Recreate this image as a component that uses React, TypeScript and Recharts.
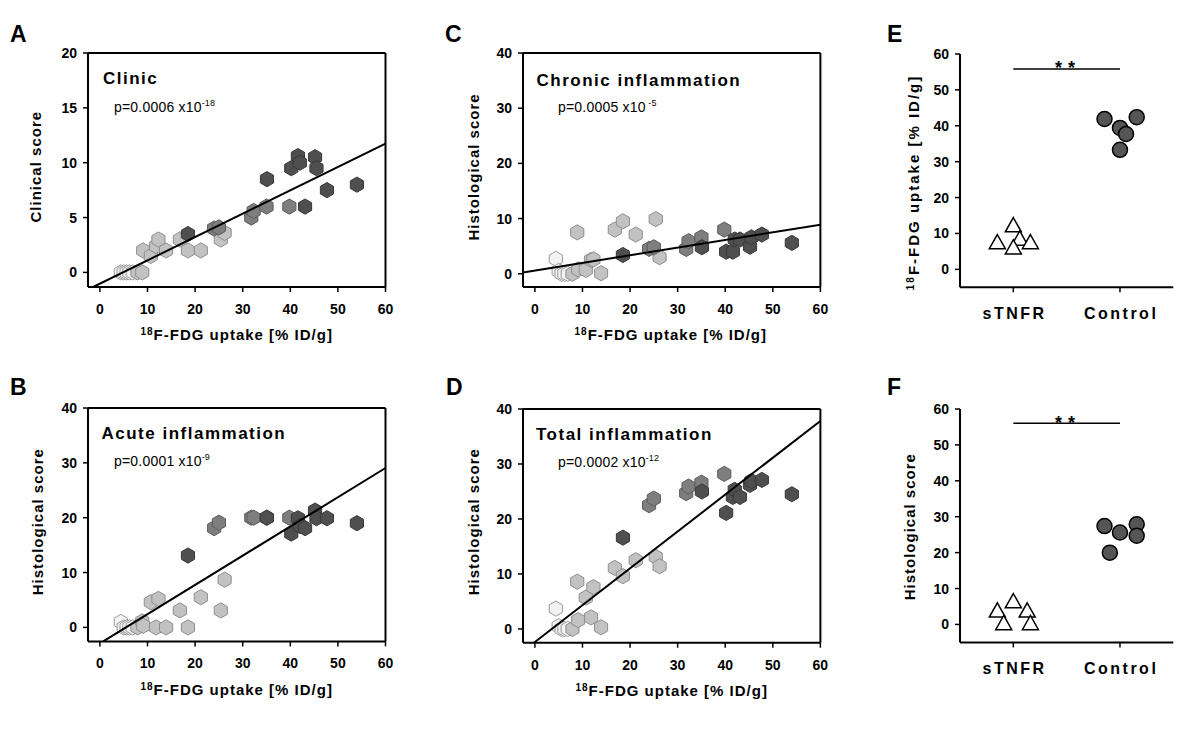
import React from 'react';
import { ScatterChart, Scatter, XAxis, YAxis, ReferenceLine } from 'recharts';

const FONT = '"Liberation Sans", Arial, Helvetica, sans-serif';

// ---------- DATA ----------
// 18F-FDG uptake [% ID/g] per group of mice
const uptakeWhite = [4.4, 5.0, 5.6, 6.2, 6.9];
const uptakeLight = [7.9, 8.9, 9.1, 10.7, 11.8, 12.3, 13.9, 16.8, 18.5, 21.2, 25.4, 26.2];
const uptakeMedium = [24.0, 25.0, 31.8, 32.3, 35.0, 39.8];
const uptakeDark = [18.5, 35.1, 40.2, 41.6, 42.0, 43.1, 45.2, 45.5, 47.7, 54.0];

// A: clinical score
const clinicWhite = [0, 0, 0, 0, 0];
const clinicLight = [0, 0, 2.0, 1.5, 2.4, 3.0, 2.0, 3.0, 2.0, 2.0, 3.0, 3.6];
const clinicMedium = [4.0, 4.1, 5.0, 5.6, 6.0, 6.0];
const clinicDark = [3.5, 8.5, 9.5, 10.6, 10.0, 6.0, 10.5, 9.5, 7.5, 8.0];

// B: acute inflammation
const acuteWhite = [1.0, 0, 0, 0, 0];
const acuteLight = [0, 1.1, 0.3, 4.6, 0, 5.2, 0, 3.1, 0, 5.5, 3.1, 8.7];
const acuteMedium = [18.1, 19.1, 20, 20, 20, 20];
const acuteDark = [13.1, 20, 17.1, 19.9, 18.5, 18.1, 21.3, 19.9, 19.9, 19.0];

// C: chronic inflammation
const chronicWhite = [2.7, 0.5, 0, 0, 0];
const chronicLight = [0, 7.5, 0.8, 0.7, 2.5, 2.6, 0.1, 8.0, 9.5, 7.1, 9.9, 3.0];
const chronicMedium = [4.5, 4.8, 4.5, 5.9, 6.6, 8.0];
const chronicDark = [3.4, 4.8, 4.0, 4.0, 6.2, 6.2, 4.9, 6.6, 7.1, 5.6];

// D: total inflammation
const totalWhite = [3.7, 0.5, 0, 0, 0];
const totalLight = [0, 8.6, 1.6, 5.7, 2.1, 7.6, 0.3, 11.1, 9.6, 12.5, 13.1, 11.4];
const totalMedium = [22.5, 23.7, 24.7, 25.9, 26.6, 28.2];
const totalDark = [16.6, 25.0, 21.1, 24.0, 25.3, 24.0, 26.2, 26.9, 27.1, 24.5];

// regression lines (slope, intercept)
const fitClinic = [0.2127, -1.03];
const fitAcute = [0.533, -2.92];
const fitChronic = [0.1382, 0.59];
const fitTotal = [0.67, -2.37];

// E / F group comparisons (x = jittered group position, 0.5 = sTNFR, 1.5 = Control)
const categories = ['sTNFR', 'Control'];
const categoryPositions = [0.5, 1.5];
const eSTNFRx = [0.5, 0.35, 0.56, 0.66, 0.5];
const eSTNFRy = [12.4, 7.7, 8.7, 7.7, 6.25];
const eControlX = [1.355, 1.657, 1.5, 1.557, 1.5];
const eControlY = [41.9, 42.4, 39.4, 37.7, 33.3];
const fSTNFRx = [0.35, 0.41, 0.5, 0.63, 0.66];
const fSTNFRy = [4.0, 0.5, 6.6, 4.0, 0.5];
const fControlX = [1.355, 1.657, 1.5, 1.657, 1.405];
const fControlY = [27.4, 27.9, 25.6, 24.7, 20.0];
const sigE = [0.5, 1.5, 55.8];
const sigF = [0.5, 1.5, 56];

const xTicks = [0, 10, 20, 30, 40, 50, 60];
const xDomain: [number, number] = [-2.5, 60];
const ticks20 = [0, 5, 10, 15, 20];
const ticks40 = [0, 10, 20, 30, 40];
const ticks60 = [0, 10, 20, 30, 40, 50, 60];

// ---------- helpers ----------
type Pt = { x: number; y: number };
const zip = (xs: number[], ys: number[]): Pt[] => xs.map((x, i) => ({ x, y: ys[i] }));

const STYLE = {
  white: { fill: '#f3f3f3', stroke: '#9a9a9a' },
  light: { fill: '#c2c2c2', stroke: '#8e8e8e' },
  medium: { fill: '#7e7e7e', stroke: '#5c5c5c' },
  dark: { fill: '#4f4f4f', stroke: '#383838' },
};

const hexPath = (cx: number, cy: number, r: number) => {
  const pts: string[] = [];
  for (let k = 0; k < 6; k++) {
    const a = Math.PI / 2 + (k * Math.PI) / 3;
    pts.push(`${(cx + r * Math.cos(a)).toFixed(2)},${(cy - r * Math.sin(a)).toFixed(2)}`);
  }
  return `M${pts.join('L')}Z`;
};

const makeHex = (fill: string, stroke: string) => (props: any) => {
  const { cx, cy } = props;
  if (cx == null || cy == null) return <g />;
  return <path d={hexPath(cx, cy, 7.6)} fill={fill} stroke={stroke} strokeWidth={1} />;
};

const noShape = () => <g />;

const Triangle = (props: any) => {
  const { cx, cy } = props;
  if (cx == null || cy == null) return <g />;
  return (
    <path
      d={`M${cx},${cy - 7.2}L${cx + 8},${cy + 7}L${cx - 8},${cy + 7}Z`}
      fill="#ffffff"
      stroke="#000"
      strokeWidth={1.5}
      strokeLinejoin="miter"
    />
  );
};

const Circle = (props: any) => {
  const { cx, cy } = props;
  if (cx == null || cy == null) return <g />;
  return <circle cx={cx} cy={cy} r={7.5} fill="#555555" stroke="#000" strokeWidth={1.5} />;
};

const fitPoints = (fit: number[], yDomain: [number, number]): Pt[] => {
  const [m, b] = fit;
  const x0 = Math.max(xDomain[0], (yDomain[0] - b) / m);
  const x1 = Math.min(xDomain[1], (yDomain[1] - b) / m);
  return [
    { x: x0, y: m * x0 + b },
    { x: x1, y: m * x1 + b },
  ];
};

const tickStyle = { fontSize: 14, fontWeight: 700, fill: '#000', fontFamily: FONT };
const axisLine = { stroke: '#000', strokeWidth: 2 };
const tickLine = { stroke: '#000', strokeWidth: 1.5 };

type Groups = { white: number[]; light: number[]; medium: number[]; dark: number[] };

function ScatterPanel(props: {
  left: number;
  top: number;
  width: number;
  height: number;
  yDomain: [number, number];
  yTicks: number[];
  groups: Groups;
  fit: number[];
}) {
  const { left, top, width, height, yDomain, yTicks, groups, fit } = props;
  const W = width + 90;
  const H = height + 80;
  return (
    <div style={{ position: 'absolute', left: left - 70, top: top - 20 }}>
      <ScatterChart width={W} height={H} margin={{ top: 20, right: 20, bottom: 30, left: 10 }}>
        <XAxis
          type="number"
          dataKey="x"
          domain={xDomain}
          ticks={xTicks}
          interval={0}
          allowDataOverflow
          height={30}
          tickSize={5}
          tickMargin={12}
          axisLine={axisLine}
          tickLine={tickLine}
          tick={tickStyle}
        />
        <YAxis
          type="number"
          dataKey="y"
          domain={yDomain}
          ticks={yTicks}
          interval={0}
          allowDataOverflow
          width={60}
          tickSize={5}
          tickMargin={6}
          axisLine={axisLine}
          tickLine={tickLine}
          tick={tickStyle}
        />
        <ReferenceLine y={yDomain[1]} stroke="#000" strokeWidth={2} ifOverflow="visible" />
        <ReferenceLine x={xDomain[1]} stroke="#000" strokeWidth={2} ifOverflow="visible" />
        <Scatter data={zip(uptakeWhite, groups.white)} shape={makeHex(STYLE.white.fill, STYLE.white.stroke)} isAnimationActive={false} />
        <Scatter data={zip(uptakeLight, groups.light)} shape={makeHex(STYLE.light.fill, STYLE.light.stroke)} isAnimationActive={false} />
        <Scatter data={zip(uptakeMedium, groups.medium)} shape={makeHex(STYLE.medium.fill, STYLE.medium.stroke)} isAnimationActive={false} />
        <Scatter data={zip(uptakeDark, groups.dark)} shape={makeHex(STYLE.dark.fill, STYLE.dark.stroke)} isAnimationActive={false} />
        <Scatter
          data={fitPoints(fit, yDomain)}
          shape={noShape}
          line={{ stroke: '#000', strokeWidth: 2 }}
          isAnimationActive={false}
        />
      </ScatterChart>
    </div>
  );
}

const CatTick = (props: any) => {
  const { x, y, payload } = props;
  const idx = categoryPositions.indexOf(payload.value);
  return (
    <text
      x={x + 1.2}
      y={y}
      dy="0.71em"
      textAnchor="middle"
      fontFamily={FONT}
      fontSize={16}
      fontWeight={700}
      letterSpacing={2.5}
      fill="#000"
    >
      {categories[idx] ?? ''}
    </text>
  );
};

function GroupPanel(props: {
  left: number;
  top: number;
  width: number;
  height: number;
  tri: Pt[];
  circ: Pt[];
  sig: number[];
}) {
  const { left, top, width, height, tri, circ, sig } = props;
  const W = width + 110;
  const H = height + 90;
  return (
    <div style={{ position: 'absolute', left: left - 80, top: top - 20 }}>
      <ScatterChart width={W} height={H} margin={{ top: 20, right: 30, bottom: 30, left: 30 }}>
        <XAxis
          type="number"
          dataKey="x"
          domain={[0, 2]}
          ticks={categoryPositions}
          interval={0}
          height={40}
          tickSize={5}
          tickMargin={15}
          axisLine={axisLine}
          tickLine={tickLine}
          tick={<CatTick />}
        />
        <YAxis
          type="number"
          dataKey="y"
          domain={[-5, 60]}
          ticks={ticks60}
          interval={0}
          width={50}
          tickSize={5}
          tickMargin={6}
          axisLine={axisLine}
          tickLine={tickLine}
          tick={tickStyle}
        />
        <ReferenceLine
          segment={[
            { x: sig[0], y: sig[2] },
            { x: sig[1], y: sig[2] },
          ]}
          stroke="#000"
          strokeWidth={1.5}
        />
        <Scatter data={tri} shape={Triangle} isAnimationActive={false} />
        <Scatter data={circ} shape={Circle} isAnimationActive={false} />
      </ScatterChart>
    </div>
  );
}

// ---------- overlay text (layout) ----------
const panelLetters = [
  { t: 'A', x: 10, y: 42 },
  { t: 'B', x: 10, y: 395 },
  { t: 'C', x: 445, y: 42 },
  { t: 'D', x: 446, y: 395 },
  { t: 'E', x: 887, y: 42 },
  { t: 'F', x: 887, y: 395 },
];
const panelTitles = [
  { t: 'Clinic', x: 103, y: 84 },
  { t: 'Acute inflammation', x: 101.5, y: 439 },
  { t: 'Chronic inflammation', x: 536.5, y: 86 },
  { t: 'Total inflammation', x: 536, y: 440 },
];
const pValues = [
  { t: 'p=0.0006 x10', s: '-18', x: 114, y: 112 },
  { t: 'p=0.0001 x10', s: '-9', x: 114, y: 466 },
  { t: 'p=0.0005 x10', s: ' -5', x: 558, y: 112 },
  { t: 'p=0.0002 x10', s: '-12', x: 558, y: 466.5 },
];
const yTitles = [
  { t: 'Clinical score', x: 41.5, y: 166.7, ls: 1 },
  { t: 'Histological score', x: 43, y: 521.7, ls: 1 },
  { t: 'Histological score', x: 479, y: 167, ls: 1 },
  { t: 'Histological score', x: 479, y: 521.7, ls: 1 },
  { t: 'Histological score', x: 915, y: 526.7, ls: 1 },
];
const fdgTitles = [
  { x: 236.7, y: 340, rot: false, ls: 1 },
  { x: 236.7, y: 695, rot: false, ls: 1 },
  { x: 670.8, y: 340, rot: false, ls: 1 },
  { x: 671.7, y: 696, rot: false, ls: 1 },
  { x: 919, y: 182.5, rot: true, ls: 2 },
];
const stars = [
  { x: 1068, y: 73.5 },
  { x: 1068, y: 428.5 },
];

function Overlay() {
  return (
    <svg width={1200} height={741} style={{ position: 'absolute', left: 0, top: 0, pointerEvents: 'none' }}>
      {panelLetters.map((p) => (
        <text key={p.t} x={p.x} y={p.y} fontFamily={FONT} fontSize={23} fontWeight={700} fill="#000">
          {p.t}
        </text>
      ))}
      {panelTitles.map((p) => (
        <text key={p.t} x={p.x} y={p.y} fontFamily={FONT} fontSize={17} fontWeight={700} letterSpacing={1.5} fill="#000">
          {p.t}
        </text>
      ))}
      {pValues.map((p, i) => (
        <text key={i} x={p.x} y={p.y} fontFamily={FONT} fontSize={14} fill="#000" letterSpacing={0.2}>
          {p.t}
          <tspan fontSize={9} dy={-6}>
            {p.s}
          </tspan>
        </text>
      ))}
      {yTitles.map((p, i) => (
        <text
          key={i}
          x={p.x}
          y={p.y}
          transform={`rotate(-90 ${p.x} ${p.y})`}
          textAnchor="middle"
          fontFamily={FONT}
          fontSize={15}
          fontWeight={700}
          letterSpacing={p.ls}
          fill="#000"
        >
          {p.t}
        </text>
      ))}
      {fdgTitles.map((p, i) => (
        <text
          key={i}
          x={p.x}
          y={p.y}
          transform={p.rot ? `rotate(-90 ${p.x} ${p.y})` : undefined}
          textAnchor="middle"
          fontFamily={FONT}
          fontSize={15}
          fontWeight={700}
          letterSpacing={p.ls}
          fill="#000"
        >
          <tspan fontSize={10} dy={-5}>
            18
          </tspan>
          <tspan dy={5}>F-FDG uptake [% ID/g]</tspan>
        </text>
      ))}
      {stars.map((p, i) => (
        <text key={i} x={p.x} y={p.y} textAnchor="middle" fontFamily={FONT} fontSize={18} fontWeight={700} letterSpacing={6} fill="#000">
          **
        </text>
      ))}
    </svg>
  );
}

export default function App() {
  return (
    <div style={{ position: 'absolute', left: 0, top: 0, width: 1200, height: 741, background: '#fff', overflow: 'hidden' }}>
      <ScatterPanel
        left={87.5}
        top={53.3}
        width={297.5}
        height={234}
        yDomain={[-1.33, 20]}
        yTicks={ticks20}
        groups={{ white: clinicWhite, light: clinicLight, medium: clinicMedium, dark: clinicDark }}
        fit={fitClinic}
      />
      <ScatterPanel
        left={87.5}
        top={408.3}
        width={297.5}
        height={233.4}
        yDomain={[-2.55, 40]}
        yTicks={ticks40}
        groups={{ white: acuteWhite, light: acuteLight, medium: acuteMedium, dark: acuteDark }}
        fit={fitAcute}
      />
      <ScatterPanel
        left={523.3}
        top={53.3}
        width={297.4}
        height={234}
        yDomain={[-2.4, 40]}
        yTicks={ticks40}
        groups={{ white: chronicWhite, light: chronicLight, medium: chronicMedium, dark: chronicDark }}
        fit={fitChronic}
      />
      <ScatterPanel
        left={523.3}
        top={409}
        width={297.4}
        height={233.7}
        yDomain={[-2.5, 40]}
        yTicks={ticks40}
        groups={{ white: totalWhite, light: totalLight, medium: totalMedium, dark: totalDark }}
        fit={fitTotal}
      />
      <GroupPanel
        left={960}
        top={54}
        width={213.3}
        height={233.3}
        tri={zip(eSTNFRx, eSTNFRy)}
        circ={zip(eControlX, eControlY)}
        sig={sigE}
      />
      <GroupPanel
        left={960}
        top={409.3}
        width={213.3}
        height={233.4}
        tri={zip(fSTNFRx, fSTNFRy)}
        circ={zip(fControlX, fControlY)}
        sig={sigF}
      />
      <Overlay />
    </div>
  );
}
